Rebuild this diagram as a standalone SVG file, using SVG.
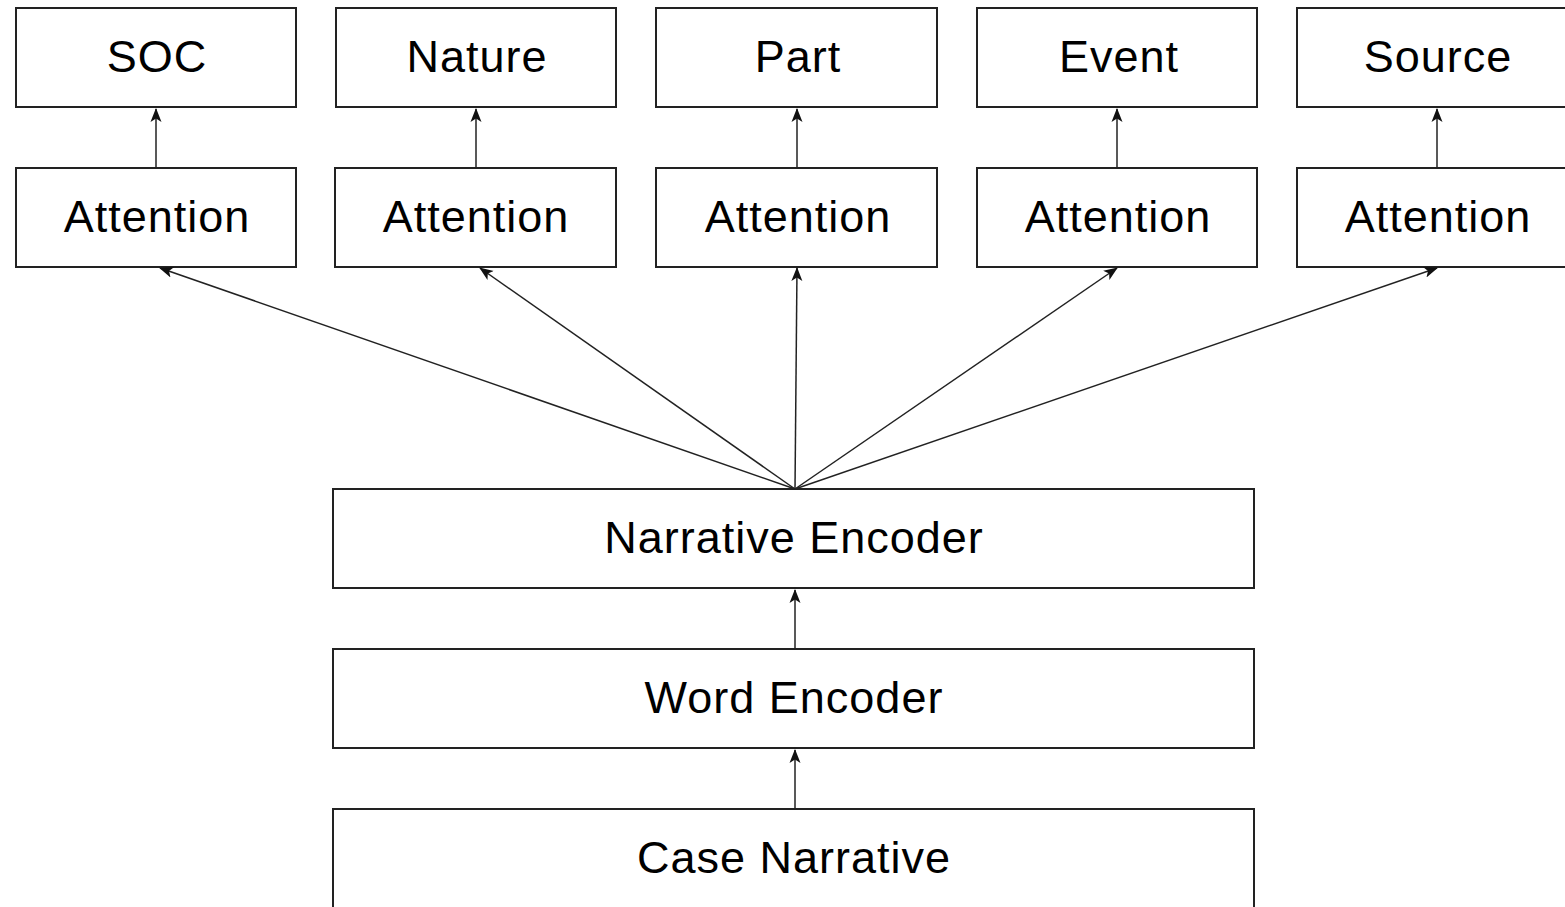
<svg xmlns="http://www.w3.org/2000/svg" width="1565" height="907" viewBox="0 0 1565 907">
<style>
.box{fill:#fff;stroke:#222;stroke-width:2}
.lbl{font-family:"Liberation Sans",Arial,sans-serif;font-size:45px;fill:#000;text-anchor:middle;letter-spacing:1px}
.edge{stroke:#222;stroke-width:1.5;fill:none;marker-end:url(#arr)}
</style>
<defs>
<marker id="arr" markerWidth="14" markerHeight="12" refX="13" refY="6" orient="auto" markerUnits="userSpaceOnUse">
<path d="M0,0.5 L14,6 L0,11.5 L3.5,6 Z" fill="#111"/>
</marker>
</defs>
<rect width="1565" height="907" fill="#fff"/>
<g id="soc"><rect class="box" x="16" y="8" width="280" height="99"/><text class="lbl" x="157" y="72">SOC</text></g>
<g id="nature"><rect class="box" x="336" y="8" width="280" height="99"/><text class="lbl" x="477" y="72">Nature</text></g>
<g id="part"><rect class="box" x="656" y="8" width="281" height="99"/><text class="lbl" x="798" y="72">Part</text></g>
<g id="event"><rect class="box" x="977" y="8" width="280" height="99"/><text class="lbl" x="1119" y="72">Event</text></g>
<g id="source"><rect class="box" x="1297" y="8" width="280" height="99"/><text class="lbl" x="1438" y="72">Source</text></g>
<g id="att1"><rect class="box" x="16" y="168" width="280" height="99"/><text class="lbl" x="157" y="232">Attention</text></g>
<g id="att2"><rect class="box" x="335" y="168" width="281" height="99"/><text class="lbl" x="476" y="232">Attention</text></g>
<g id="att3"><rect class="box" x="656" y="168" width="281" height="99"/><text class="lbl" x="798" y="232">Attention</text></g>
<g id="att4"><rect class="box" x="977" y="168" width="280" height="99"/><text class="lbl" x="1118" y="232">Attention</text></g>
<g id="att5"><rect class="box" x="1297" y="168" width="280" height="99"/><text class="lbl" x="1438" y="232">Attention</text></g>
<g id="narrative"><rect class="box" x="333" y="489" width="921" height="99"/><text class="lbl" x="794" y="553">Narrative Encoder</text></g>
<g id="word"><rect class="box" x="333" y="649" width="921" height="99"/><text class="lbl" x="794" y="713">Word Encoder</text></g>
<g id="case"><rect class="box" x="333" y="809" width="921" height="120"/><text class="lbl" x="794" y="873">Case Narrative</text></g>
<g id="connectors">
<line class="edge" x1="156" y1="168" x2="156" y2="109"/>
<line class="edge" x1="476" y1="168" x2="476" y2="109"/>
<line class="edge" x1="797" y1="168" x2="797" y2="109"/>
<line class="edge" x1="1117" y1="168" x2="1117" y2="109"/>
<line class="edge" x1="1437" y1="168" x2="1437" y2="109"/>
<line class="edge" x1="795" y1="489" x2="160" y2="268"/>
<line class="edge" x1="795" y1="489" x2="480" y2="268"/>
<line class="edge" x1="795" y1="489" x2="797" y2="268"/>
<line class="edge" x1="795" y1="489" x2="1117" y2="268"/>
<line class="edge" x1="795" y1="489" x2="1437" y2="268"/>
<line class="edge" x1="795" y1="649" x2="795" y2="590"/>
<line class="edge" x1="795" y1="809" x2="795" y2="750"/>
</g>
</svg>
